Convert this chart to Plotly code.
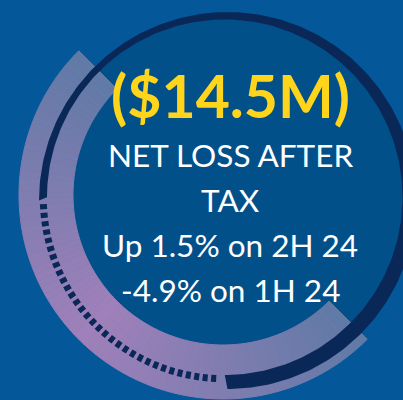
import numpy as np
import plotly.graph_objects as go

W, H = 403, 400

# ---- text content ----
headline = "($14.5M)"
label_lines = ["NET LOSS AFTER", "TAX", "Up 1.5% on 2H 24", "-4.9% on 1H 24"]

# ---- colours ----
BG = "#04589a"
INNER = "#02508a"
NAVY = "#0a2857"
YELLOW = "#ffd51c"
WHITE = "#ffffff"
band_stop_angles = [45, 135, 225]            # screen degrees (y down)
band_stop_colors = [(96, 122, 166), (160, 128, 186), (96, 122, 166)]

# ---- geometry (screen px, y down) ----
ring_outer = [227.5, 200.5, 188.5]           # cx, cy, r
ring_inner = [224.75, 197.25, 177.75]
ring_solid_span = [180, 450]                 # degrees
band_circle = [223.0, 195.0, 150.0, 204.0]   # cx, cy, r_in, r_out
band_span = [45, 225]
band_segments = 90
dot_span = [177.0, 93.5]
dot_count = 32
dot_radii = [178.0, 185.0]
dot_len_deg = 1.6

text_x = 230
headline_y = 95
line_ys = [155, 200, 245, 290]


def pts(cx, cy, r, a0, a1, n=120):
    t = np.radians(np.linspace(a0, a1, n))
    return cx + r * np.cos(t), cy + r * np.sin(t)


def lerp_color(a):
    for i in range(len(band_stop_angles) - 1):
        a0, a1 = band_stop_angles[i], band_stop_angles[i + 1]
        if a0 <= a <= a1:
            u = (a - a0) / (a1 - a0)
            c0, c1 = band_stop_colors[i], band_stop_colors[i + 1]
            c = [round(c0[k] + (c1[k] - c0[k]) * u) for k in range(3)]
            return f"rgb({c[0]},{c[1]},{c[2]})"
    c = band_stop_colors[-1]
    return f"rgb({c[0]},{c[1]},{c[2]})"


fig = go.Figure()

# inner filled circle
x, y = pts(ring_inner[0], ring_inner[1], ring_inner[2], 0, 360, 240)
fig.add_trace(go.Scatter(x=x, y=y, mode="lines", fill="toself", fillcolor=INNER,
                         line=dict(width=0, color=INNER), hoverinfo="skip"))

# gradient band
cx, cy, rin, rout = band_circle
edges = np.linspace(band_span[0], band_span[1], band_segments + 1)
for a0, a1 in zip(edges[:-1], edges[1:]):
    col = lerp_color((a0 + a1) / 2)
    ox, oy = pts(cx, cy, rout, a0, a1, 6)
    ix, iy = pts(cx, cy, rin, a1, a0, 6)
    fig.add_trace(go.Scatter(x=np.r_[ox, ix, ox[:1]], y=np.r_[oy, iy, oy[:1]],
                             mode="lines", fill="toself", fillcolor=col,
                             line=dict(width=1, color=col), hoverinfo="skip"))

# solid navy ring (crescent)
ox, oy = pts(ring_outer[0], ring_outer[1], ring_outer[2], ring_solid_span[0], ring_solid_span[1], 300)
ix, iy = pts(ring_inner[0], ring_inner[1], ring_inner[2], ring_solid_span[1], ring_solid_span[0], 300)
fig.add_trace(go.Scatter(x=np.r_[ox, ix, ox[:1]], y=np.r_[oy, iy, oy[:1]], mode="lines",
                         fill="toself", fillcolor=NAVY, line=dict(width=0, color=NAVY),
                         hoverinfo="skip"))

# dotted navy segment
dx, dy = [], []
for c in np.linspace(dot_span[0], dot_span[1], dot_count):
    a0, a1 = c - dot_len_deg / 2, c + dot_len_deg / 2
    px1, py1 = pts(ring_inner[0], ring_inner[1], dot_radii[1], a0, a1, 3)
    px2, py2 = pts(ring_inner[0], ring_inner[1], dot_radii[0], a1, a0, 3)
    dx += list(px1) + list(px2) + [px1[0], None]
    dy += list(py1) + list(py2) + [py1[0], None]
fig.add_trace(go.Scatter(x=dx, y=dy, mode="lines", fill="toself", fillcolor=NAVY,
                         line=dict(width=0, color=NAVY), hoverinfo="skip"))

# text
fig.add_annotation(x=text_x, y=headline_y, text=f"<b>{headline}</b>", showarrow=False,
                   xanchor="center", yanchor="middle",
                   font=dict(family="Lato", size=59, color=YELLOW))
for txt, ly in zip(label_lines, line_ys):
    fig.add_annotation(x=text_x, y=ly, text=txt, showarrow=False,
                       xanchor="center", yanchor="middle",
                       font=dict(family="Lato", size=31.5, color=WHITE))

fig.update_layout(
    width=W, height=H, margin=dict(l=0, r=0, t=0, b=0),
    paper_bgcolor=BG, plot_bgcolor=BG, showlegend=False,
    xaxis=dict(range=[0, W], visible=False, fixedrange=True),
    yaxis=dict(range=[H, 0], visible=False, fixedrange=True),
)
fig.write_html("out.html", config={"displayModeBar": False},
               post_script="document.body.style.margin='0';document.body.style.overflow='hidden';")
